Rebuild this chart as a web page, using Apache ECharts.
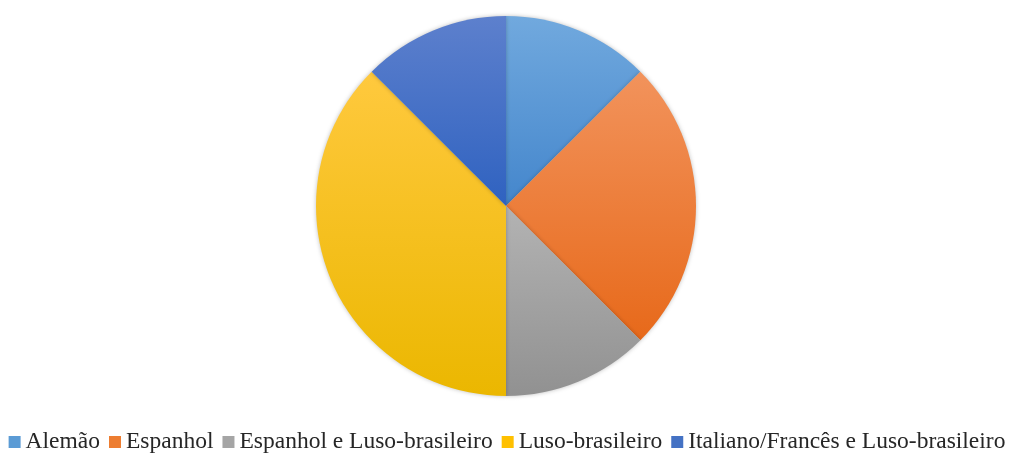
<!DOCTYPE html>
<html>
<head>
<meta charset="utf-8">
<script src="https://cdn.jsdelivr.net/npm/echarts@6/dist/echarts.min.js"></script>
<style>
  html, body { margin: 0; padding: 0; background: #fff; }
  #chart { width: 1014px; height: 457px; }
</style>
</head>
<body>
<div id="chart"></div>
<script>
// Origem das famílias por grupo linguístico
const categories = ['Alemão', 'Espanhol', 'Espanhol e Luso-brasileiro', 'Luso-brasileiro', 'Italiano/Francês e Luso-brasileiro'];
const values = [1, 2, 1, 3, 1];
// Gradient stops per slice: lighter top, darker bottom
const topColors = ['#71a9de', '#f2935c', '#b3b3b3', '#ffc93e', '#5d80cd'];
const bottomColors = ['#4486cc', '#e7691a', '#919191', '#ebb700', '#2f62c0'];
const legendColors = ['#5b9bd5', '#ed7d31', '#a5a5a5', '#ffc000', '#4472c4'];

const chart = echarts.init(document.getElementById('chart'));

const data = categories.map((name, i) => ({
  name,
  value: values[i],
  itemStyle: {
    color: new echarts.graphic.LinearGradient(0, 0, 0, 1, [
      { offset: 0, color: topColors[i] },
      { offset: 1, color: bottomColors[i] }
    ])
  }
}));

chart.setOption({
  animation: false,
  backgroundColor: '#ffffff',
  legend: {
    bottom: -2,
    left: 'center',
    itemWidth: 12,
    itemHeight: 12,
    itemGap: 9,
    icon: 'rect',
    textStyle: { fontFamily: 'Liberation Serif', fontSize: 23.5, color: '#262626' },
    data: categories.map((name, i) => ({ name, itemStyle: { color: legendColors[i] } }))
  },
  series: [{
    type: 'pie',
    center: [506, 206],
    radius: 190,
    startAngle: 90,
    clockwise: true,
    label: { show: false },
    labelLine: { show: false },
    itemStyle: {
      borderWidth: 0,
      shadowBlur: 4,
      shadowColor: 'rgba(0,0,0,0.25)'
    },
    emphasis: { disabled: true },
    data
  }]
});
</script>
</body>
</html>
